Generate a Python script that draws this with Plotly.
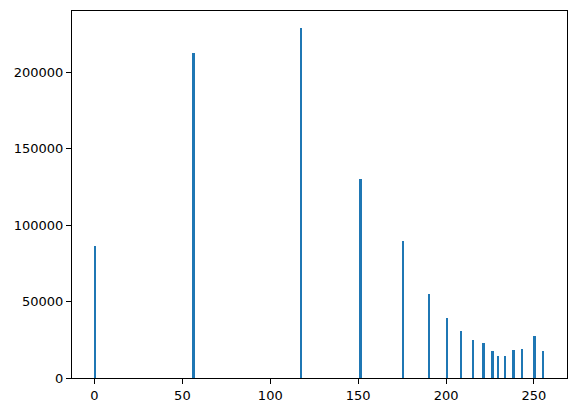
import plotly.graph_objects as go

# Pixel intensity bins (left edges) and their counts
bin_values = [0, 56, 117, 151, 175, 190, 200, 208, 215, 221, 226, 229, 233, 238, 243, 250, 255]
counts = [86300, 212300, 228600, 129900, 89600, 55200, 39200, 30700, 24900, 22700,
          17700, 14300, 14300, 18400, 19000, 27300, 17700]

bin_width = 255 / 256
centers = [v + bin_width / 2 for v in bin_values]

fig = go.Figure(go.Bar(
    x=centers, y=counts, width=[bin_width] * len(centers),
    marker=dict(color="#1f77b4", line=dict(width=0)),
))

axis_common = dict(
    showgrid=False, zeroline=False, showline=True, mirror=True,
    linecolor="black", linewidth=1, ticks="outside", ticklen=5,
    tickcolor="black", tickwidth=1,
    tickfont=dict(family="DejaVu Sans", size=13, color="black"),
)

fig.update_layout(
    width=578, height=413,
    margin=dict(l=72, r=10, t=10, b=34),
    paper_bgcolor="white", plot_bgcolor="white",
    showlegend=False, bargap=0,
    xaxis=dict(range=[-12.8, 268.8], tickvals=[0, 50, 100, 150, 200, 250], **axis_common),
    yaxis=dict(range=[0, 240030], tickvals=[0, 50000, 100000, 150000, 200000],
               ticktext=["0", "50000", "100000", "150000", "200000"], **axis_common),
)

fig.write_html(
    "out.html",
    config={"displayModeBar": False},
    post_script="document.body.style.margin='0';document.body.style.overflow='hidden';",
)
